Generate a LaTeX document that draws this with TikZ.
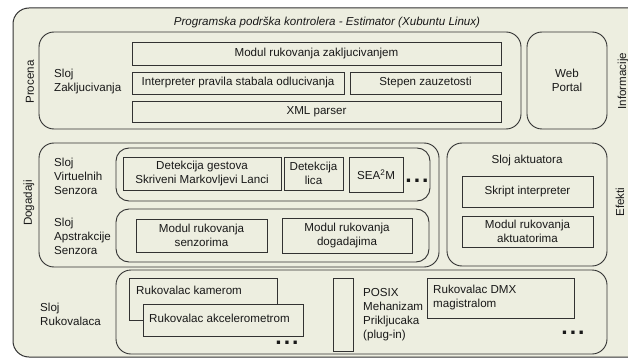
\documentclass[tikz,border=0pt]{standalone}
\usepackage{fontspec}
\setmainfont{Liberation Sans}
\definecolor{bg}{RGB}{237,238,224}
\definecolor{ln}{RGB}{50,50,50}
\definecolor{tx}{RGB}{25,25,25}
\newcommand\fs{\fontsize{11.6}{14}\selectfont}
\tikzset{
  mod/.style={draw=ln, line width=0.8pt, fill=bg, inner sep=0pt, outer sep=0pt,
              anchor=north west, align=center, font=\fs, text=tx},
  layer/.style={line width=0.9pt, rounded corners=15pt},
  txt/.style={inner sep=0pt, align=center, font=\fs, text=tx},
  ltxt/.style={txt, align=left, anchor=west},
  vtxt/.style={txt, rotate=90},
  dots/.style={inner sep=0pt, font=\fontsize{23}{23}\selectfont\bfseries, text=tx}
}
\newcommand\mybox[7][]{\node[mod,#1,minimum width={#5-#3},minimum height={#6-#4}] (#2) at (#3,#4) {#7};}
\newcommand\dotsT{.\kern2pt.\kern2pt.}
\begin{document}
\begin{tikzpicture}[x=1pt,y=-1pt]
\useasboundingbox (0,0) rectangle (628,358);
\fill[white] (0,0) rectangle (628,358);
% outer frame
\mybox[layer, line width=1pt, rounded corners=16pt]{outer}{13}{8}{660}{357}{}
\node[txt, font=\fs\itshape] (title) at (327,22) {Programska podrška kontrolera - Estimator (Xubuntu Linux)};
% Procena
\node[vtxt] (procenaL) at (30,82) {Procena};
\mybox[layer]{procena}{39}{32}{521}{129}{}
\node[ltxt] (zakL) at (54,81.5) {Sloj\\Zakljucivanja};
\mybox{mrz}{132}{42}{501}{65}{Modul rukovanja zakljucivanjem}
\mybox{ipso}{132}{72}{344}{94}{Interpreter pravila stabala odlucivanja}
\mybox{stz}{350}{72}{501}{94}{Stepen zauzetosti}
\mybox{xml}{132}{101}{501}{122}{XML parser}
% Web portal
\mybox[layer]{web}{527}{32}{607}{129}{Web\\Portal}
\node[vtxt] (infoL) at (623,81) {Informacije};
% Dogadaji
\node[vtxt] (dogL) at (29,203) {Dogadaji};
\mybox[layer]{dog}{39}{143}{439}{267}{}
\mybox[layer, rounded corners=13pt]{virt}{116}{148}{430}{201}{}
\node[ltxt] (virtL) at (54,176.5) {Sloj\\Virtuelnih\\Senzora};
\mybox{dg}{123}{157}{281}{190}{Detekcija gestova\\Skriveni Markovljevi Lanci}
\mybox{dl}{284}{157}{343}{190}{Detekcija\\lica}
\mybox{sea}{349}{157}{403}{192}{SEA\textsuperscript{2}M}
\node[dots] (dots1) at (417,181) {\dotsT};
\mybox[layer, rounded corners=13pt]{apst}{116}{209}{429}{262}{}
\node[ltxt] (apstL) at (54,236.5) {Sloj\\Apstrakcije\\Senzora};
\mybox{mrs}{136}{219}{267}{252}{Modul rukovanja\\senzorima}
\mybox{mrd}{282}{218}{412}{253}{Modul rukovanja\\dogadajima}
% Aktuatori
\mybox[layer]{akt}{447}{143}{607}{266}{}
\node[txt] (aktL) at (527,161) {Sloj aktuatora};
\mybox{skr}{462}{176}{593}{207}{Skript interpreter}
\mybox{mra}{462}{216}{593}{247}{Modul rukovanja\\aktuatorima}
\node[vtxt] (efL) at (620,202) {Efekti};
% Rukovalaci
\mybox[layer]{ruk}{116}{270}{607}{354}{}
\node[ltxt] (rukL) at (40,314) {Sloj\\Rukovalaca};
\mybox{kam}{129}{278}{277}{320}{}
\node[ltxt] (kamT) at (136,290) {Rukovalac kamerom};
\mybox{akc}{143}{304}{303}{336}{}
\node[ltxt] (akcT) at (149,318) {Rukovalac akcelerometrom};
\node[dots] (dots2) at (287,343) {\dotsT};
\mybox{posix}{333}{278}{353}{351}{}
\node[ltxt] (posixT) at (363,314.5) {POSIX\\Mehanizam\\Prikljucaka\\(plug-in)};
\mybox{dmx}{427}{278}{574}{318}{}
\node[ltxt] (dmxT) at (433,297) {Rukovalac DMX\\magistralom};
\node[dots] (dots3) at (573,333) {\dotsT};
\end{tikzpicture}
\end{document}
